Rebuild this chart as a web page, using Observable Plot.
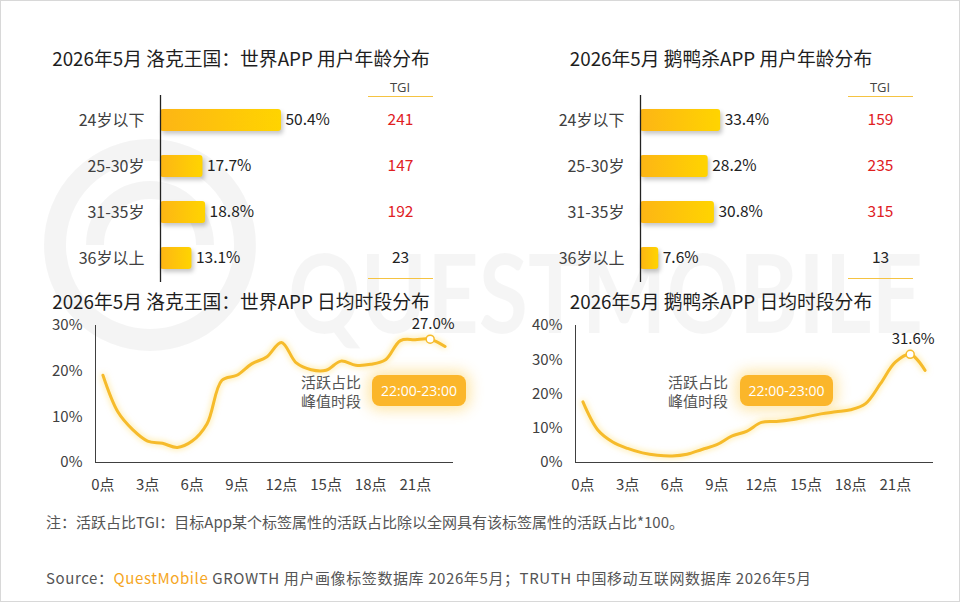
<!DOCTYPE html>
<html>
<head>
<meta charset="utf-8">
<script src="https://cdn.jsdelivr.net/npm/d3@7"></script>
<script src="https://cdn.jsdelivr.net/npm/@observablehq/plot@0.6"></script>
<style>
  body { margin: 0; background: #fff; font-family: "Noto Sans CJK SC", "Noto Sans", sans-serif; }
  #root { position: relative; width: 960px; height: 602px; overflow: hidden; background: #fff; }
  .abs { position: absolute; }
  .title { font-size: 18.8px; color: #1e1e1e; white-space: nowrap; transform: translate(-50%, -50%); }
  .tgihead { font-size: 13px; color: #444; transform: translate(-50%, -50%); font-family: "Open Sans", sans-serif; }
  .gline { height: 0; border-top: 1.5px solid #F5C342; }
  .note { font-size: 15px; color: #555; white-space: nowrap; transform: translateY(-50%); }
  .ann { font-size: 15px; color: #555; line-height: 19px; white-space: nowrap; }
  .pill { background: #FBB62A; color: #fff; border-radius: 8px; font-size: 14px; display: flex; align-items: center; justify-content: center;
          box-shadow: 0 0 14px 4px rgba(253, 200, 60, 0.45); font-family: "Open Sans", sans-serif; }
  .chart { position: absolute; }
  .chart svg { overflow: visible; }
  g[aria-label="bar"] rect { filter: drop-shadow(2px 3px 2px rgba(0,0,0,0.22)); }
  g[aria-label="line"] path { filter: drop-shadow(0 0 3px rgba(255, 196, 0, 0.55)); }
  #frame { position: absolute; left: 0; top: 0; width: 958px; height: 600px; border: 1px solid #d8d8d8; pointer-events: none; }
</style>
</head>
<body>
<div id="root">
  <svg class="abs" style="left:0;top:0" width="960" height="602">
    <defs>
      <linearGradient id="barGrad" x1="0" x2="1" y1="0" y2="0">
        <stop offset="0" stop-color="#FDB515"/>
        <stop offset="1" stop-color="#FFD400"/>
      </linearGradient>
    </defs>
    <g opacity="0.04" fill="none" stroke="#000">
      <circle cx="150" cy="245" r="95" stroke-width="22"/>
      <path d="M 95 245 A 55 55 0 0 1 205 245" stroke-width="18"/>
    </g>
    <text x="288" y="333" font-size="110" font-weight="bold" fill="#000" opacity="0.035" textLength="635" lengthAdjust="spacingAndGlyphs" font-family="Lato, sans-serif">QUESTMOBILE</text>
  </svg>

  <div class="abs title" style="left:241px;top:57px">2026年5月 洛克王国：世界APP 用户年龄分布</div>
  <div class="abs title" style="left:721px;top:57px">2026年5月 鹅鸭杀APP 用户年龄分布</div>
  <div class="abs title" style="left:241px;top:300px">2026年5月 洛克王国：世界APP 日均时段分布</div>
  <div class="abs title" style="left:721px;top:300px">2026年5月 鹅鸭杀APP 日均时段分布</div>

  <div class="abs tgihead" style="left:400px;top:87px">TGI</div>
  <div class="abs gline" style="left:368px;top:96px;width:65px"></div>
  <div class="abs gline" style="left:368px;top:278px;width:65px"></div>
  <div class="abs tgihead" style="left:880px;top:87px">TGI</div>
  <div class="abs gline" style="left:848px;top:96px;width:65px"></div>
  <div class="abs gline" style="left:848px;top:278px;width:65px"></div>

  <div id="bar1" class="chart" style="left:0;top:72px"></div>
  <div id="bar2" class="chart" style="left:480px;top:72px"></div>
  <div id="line1" class="chart" style="left:40px;top:310px"></div>
  <div id="line2" class="chart" style="left:520px;top:310px"></div>

  <div class="abs ann" style="left:301px;top:372px">活跃占比<br>峰值时段</div>
  <div class="abs pill peak" style="left:372px;top:375px;width:94px;height:31px"></div>
  <div class="abs ann" style="left:668px;top:372px">活跃占比<br>峰值时段</div>
  <div class="abs pill peak" style="left:740px;top:375px;width:93px;height:31px"></div>

  <div class="abs note" style="left:46px;top:521px">注：活跃占比TGI：目标App某个标签属性的活跃占比除以全网具有该标签属性的活跃占比*100。</div>
  <div class="abs note" style="left:46px;top:577px;letter-spacing:0.6px">Source：<span style="color:#F5A623">QuestMobile</span> GROWTH 用户画像标签数据库 2026年5月；TRUTH 中国移动互联网数据库 2026年5月</div>
  <div id="frame"></div>
</div>
<script>
// ---- data ----
const ageGroups = ["24岁以下", "25-30岁", "31-35岁", "36岁以上"];
const rocoShare = [50.4, 17.7, 18.8, 13.1];
const rocoTGI = [241, 147, 192, 23];
const gooseShare = [33.4, 28.2, 30.8, 7.6];
const gooseTGI = [159, 235, 315, 13];

const hours = [0, 1, 2, 3, 4, 5, 6, 7, 8, 9, 10, 11, 12, 13, 14, 15, 16, 17, 18, 19, 20, 21, 22, 23];
const rocoHourly = [19.1, 11.1, 7.2, 4.7, 4.2, 3.3, 4.7, 8.5, 18.0, 19.1, 21.6, 23.1, 26.3, 21.8, 20.3, 20.2, 22.2, 21.3, 21.5, 22.5, 26.7, 26.9, 27.0, 25.4];
const gooseHourly = [17.7, 9.5, 6.0, 4.1, 2.8, 2.1, 1.9, 2.4, 3.8, 5.2, 7.7, 9.1, 11.7, 12.0, 12.5, 13.3, 14.2, 14.8, 15.4, 17.2, 23.0, 29.3, 31.6, 26.9];
const hourTicks = [0, 3, 6, 9, 12, 15, 18, 21];
const rocoYTicks = [0, 10, 20, 30];
const gooseYTicks = [0, 10, 20, 30, 40];
const peakPeriod = "22:00-23:00";

const FONT = '"Noto Sans CJK SC", "Noto Sans", sans-serif';

function barChart(shares, tgis) {
  const data = ageGroups.map((a, i) => ({age: a, share: shares[i], tgi: tgis[i]}));
  return Plot.plot({
    width: 480, height: 220,
    marginLeft: 160, marginRight: 80, marginTop: 23, marginBottom: 10,
    style: {fontSize: "16px", fontFamily: FONT, color: "#404040", background: "transparent", overflow: "visible"},
    x: {domain: [0, 100], axis: null},
    y: {domain: ageGroups, paddingInner: 0.53, paddingOuter: 0.265, label: null, tickSize: 0, tickPadding: 16},
    color: {type: "identity"},
    marks: [
      Plot.barX(data, {y: "age", x: "share", fill: "url(#barGrad)", rx: 3}),
      Plot.ruleX([0], {stroke: "#222", strokeWidth: 1.3}),
      Plot.text(data, {y: "age", x: "share", text: d => d.share.toFixed(1) + "%", textAnchor: "start", dx: 4, fill: "#222", fontSize: 15.5}),
      Plot.text(data, {y: "age", text: d => String(d.tgi), frameAnchor: "right", textAnchor: "middle",
        fill: d => d.tgi > 100 ? "#E0201F" : "#222", fontSize: 15.5})
    ]
  });
}

function lineChart(values, yTicks) {
  const data = hours.map((h, i) => ({h, v: values[i]}));
  const peak = [data[d3.maxIndex(values)]];
  return Plot.plot({
    width: 430, height: 200,
    marginLeft: 55, marginRight: 18, marginTop: 15, marginBottom: 48,
    style: {fontSize: "15px", fontFamily: FONT, color: "#404040", background: "transparent", overflow: "visible"},
    x: {domain: [-0.5, 23.5], ticks: hourTicks, tickFormat: d => d + "点", tickSize: 0, tickPadding: 17, line: true, label: null},
    y: {domain: [0, d3.max(yTicks)], ticks: yTicks, tickFormat: d => d + "%", tickSize: 0, tickPadding: 13, line: true, label: null},
    marks: [
      Plot.line(data, {x: "h", y: "v", curve: "catmull-rom", stroke: "#F6BB2B", strokeWidth: 3}),
      Plot.dot(peak, {x: "h", y: "v", r: 4, fill: "#fff", stroke: "#F6BB2B", strokeWidth: 1.5}),
      Plot.text(peak, {x: "h", y: "v", text: d => d.v.toFixed(1) + "%", dy: -15, dx: 3, fill: "#222", fontSize: 15})
    ]
  });
}

document.getElementById("bar1").append(barChart(rocoShare, rocoTGI));
document.getElementById("bar2").append(barChart(gooseShare, gooseTGI));
document.getElementById("line1").append(lineChart(rocoHourly, rocoYTicks));
document.getElementById("line2").append(lineChart(gooseHourly, gooseYTicks));
document.querySelectorAll(".peak").forEach(el => el.textContent = peakPeriod);
</script>
</body>
</html>
